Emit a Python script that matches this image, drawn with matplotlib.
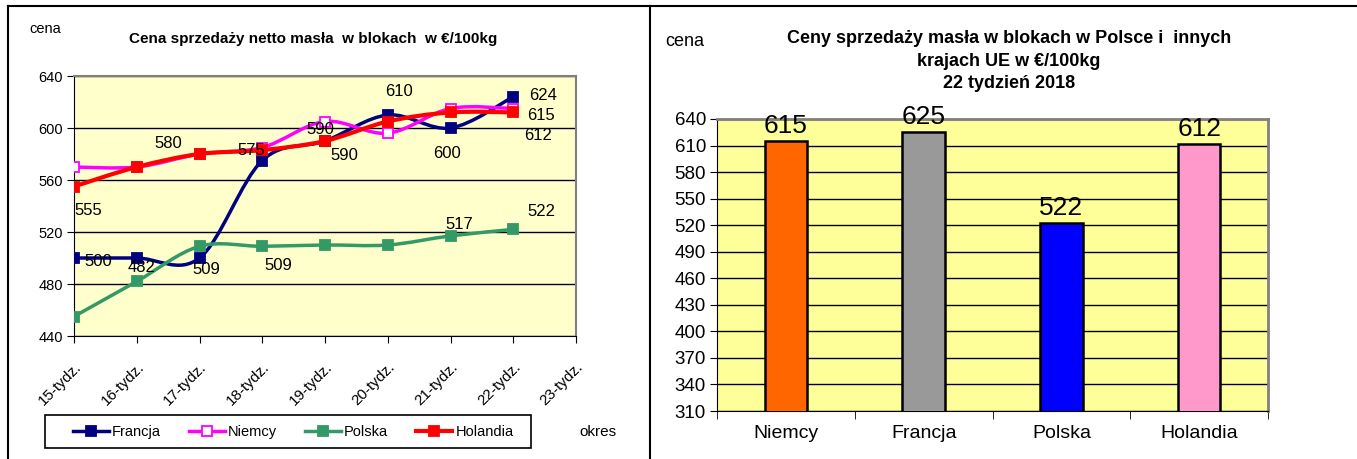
import matplotlib
matplotlib.use("Agg")
import matplotlib.pyplot as plt
from matplotlib.path import Path
from matplotlib.patches import PathPatch, Rectangle
from matplotlib.lines import Line2D
from matplotlib.transforms import ScaledTranslation
import numpy as np

plt.rcParams['font.family'] = ['Liberation Sans', 'DejaVu Sans']

# left chart: weekly prices
weeks = ["15-tydz.", "16-tydz.", "17-tydz.", "18-tydz.", "19-tydz.",
         "20-tydz.", "21-tydz.", "22-tydz.", "23-tydz."]
francja = [500, 500, 500, 575, 590, 610, 600, 624]
niemcy = [570, 570, 580, 585, 605, 596, 615, 615]
polska = [455, 482, 509, 509, 510, 510, 517, 522]
holandia = [555, 570, 580, 583, 590, 605, 612, 612]

# right chart: week 22
countries = ["Niemcy", "Francja", "Polska", "Holandia"]
week22 = [615, 625, 522, 612]
bar_colors = ["#FF6600", "#999999", "#0000FF", "#FF99CC"]


def smooth_path(ys):
    # bezier through the points, like Excel's "smoothed line"
    pts = [(float(i), float(v)) for i, v in enumerate(ys)]
    verts = [pts[0]]
    codes = [Path.MOVETO]
    n = len(pts)
    for i in range(n - 1):
        p0 = pts[max(i - 1, 0)]
        p1 = pts[i]
        p2 = pts[i + 1]
        p3 = pts[min(i + 2, n - 1)]
        c1 = (p1[0] + (p2[0] - p0[0]) / 6, p1[1] + (p2[1] - p0[1]) / 6)
        c2 = (p2[0] - (p3[0] - p1[0]) / 6, p2[1] - (p3[1] - p1[1]) / 6)
        verts += [c1, c2, p2]
        codes += [Path.CURVE4] * 3
    return Path(verts, codes)


fig = plt.figure(figsize=(13.57, 4.59), dpi=100)

# ---------------- left chart ----------------
ax = fig.add_axes([74 / 1357, 1 - 336 / 459, 502 / 1357, 260 / 459])
ax.set_facecolor("#FFFFCC")

series = [
    ("Francja", francja, "#000080", "#000080", 2.5),
    ("Niemcy", niemcy, "#FF00FF", "white", 2.5),
    ("Polska", polska, "#339966", "#339966", 2.5),
    ("Holandia", holandia, "#FF0000", "#FF0000", 3.0),
]
handles = []
for name, vals, col, mfc, lw in series:
    ax.add_patch(PathPatch(smooth_path(vals), facecolor="none", edgecolor=col,
                           lw=lw, zorder=3, capstyle="round", joinstyle="round"))
    ax.plot(range(len(vals)), vals, ls="none", marker="s", ms=6.5,
            mfc=mfc, mec=col, mew=1.3, zorder=4)
    handles.append(Line2D([], [], color=col, lw=lw, marker="s", ms=6.5,
                          mfc=mfc, mec=col, mew=1.3))

ax.set_xlim(0, len(weeks) - 1)
ax.set_ylim(440, 640)
ax.set_yticks(range(440, 641, 40))
ax.set_xticks(range(len(weeks)))
ax.set_xticklabels(weeks, rotation=45, ha="right", va="top",
                   rotation_mode="anchor", fontsize=11)
shift = ScaledTranslation(-10 / 100, 0, fig.dpi_scale_trans)
for lbl in ax.get_xticklabels():
    lbl.set_transform(lbl.get_transform() + shift)
ax.tick_params(axis="y", labelsize=10.5, length=5, direction="out", pad=3)
ax.tick_params(axis="x", length=5, direction="out", pad=12)
ax.grid(axis="y", color="black", lw=1)
ax.set_axisbelow(True)
for s in ["top", "right"]:
    ax.spines[s].set_color("#808080")
    ax.spines[s].set_linewidth(1.5)
for s in ["left", "bottom"]:
    ax.spines[s].set_color("black")

# data labels (series, index, offset in pixels)
labels = [
    (holandia, 0, 14, -24), (holandia, 2, -31, 10), (francja, 3, -11, 10),
    (holandia, 4, -5, 11), (francja, 4, 19, -15), (francja, 5, 11, 23),
    (francja, 6, -3, -26), (francja, 7, 30, 1), (niemcy, 7, 28, -7),
    (holandia, 7, 25, -23), (francja, 0, 24, -4), (polska, 1, 5, 14),
    (polska, 2, 7, -23), (polska, 3, 16, -19), (polska, 6, 9, 11),
    (polska, 7, 28, 18),
]
for vals, i, dx, dy in labels:
    ax.annotate(str(vals[i]), (i, vals[i]), xytext=(dx, dy),
                textcoords="offset pixels", ha="center", va="center",
                fontsize=12, zorder=5)

fig.text(45 / 1357, 1 - 29 / 459, "cena", fontsize=10.5, ha="center", va="center")
fig.text(313 / 1357, 1 - 39 / 459, "Cena sprzedaży netto masła  w blokach  w €/100kg",
         fontsize=11, fontweight="bold", ha="center", va="center")
fig.text(598 / 1357, 1 - 432 / 459, "okres", fontsize=11, ha="center", va="center")

# legend box drawn separately so its size matches the original
fig.add_artist(Rectangle((45 / 1357, 1 - 448 / 459), 486 / 1357, 33 / 459,
                         transform=fig.transFigure, facecolor="white",
                         edgecolor="black", lw=1.2))
leg = fig.legend(handles, [s[0] for s in series], loc="center", ncol=4,
                 bbox_to_anchor=(293 / 1357, 1 - 432 / 459),
                 fontsize=10.5, handlelength=2.5, handletextpad=0.2,
                 columnspacing=1.9, frameon=False)

# ---------------- right chart ----------------
bx = fig.add_axes([717 / 1357, 1 - 411 / 459, 551 / 1357, 292 / 459])
bx.set_facecolor("#FFFF99")
x = np.arange(len(countries))
bars = bx.bar(x, week22, width=0.31, bottom=0, color=bar_colors,
              edgecolor="black", lw=1.8, zorder=3)
bx.set_xlim(-0.5, len(countries) - 0.5)
bx.set_ylim(310, 640)
bx.set_yticks(range(310, 641, 30))
bx.set_xticks(x)
bx.set_xticklabels(countries, fontsize=14)
bx.set_xticks(np.arange(-0.5, len(countries), 1), minor=True)
bx.tick_params(axis="x", which="major", length=0, pad=10)
bx.tick_params(axis="x", which="minor", length=6, direction="out")
bx.tick_params(axis="y", labelsize=13.5, length=5, direction="out", pad=3)
bx.grid(axis="y", color="black", lw=1)
bx.set_axisbelow(True)
for s in ["top", "right"]:
    bx.spines[s].set_color("#808080")
    bx.spines[s].set_linewidth(2)
for b, v in zip(bars, week22):
    bx.annotate(str(v), (b.get_x() + b.get_width() / 2, v), xytext=(0, 15),
                textcoords="offset pixels", ha="center", va="center",
                fontsize=19, zorder=5)

fig.text(685 / 1357, 1 - 42 / 459, "cena", fontsize=13, ha="center", va="center")
fig.text(1009 / 1357, 1 - 61 / 459,
         "Ceny sprzedaży masła w blokach w Polsce i  innych\nkrajach UE w €/100kg\n22 tydzień 2018",
         fontsize=13, fontweight="bold", ha="center", va="center", linespacing=1.4)

# table borders of the page
for xs, ys in [((8 / 1357, 1), (1 - 6 / 459, 1 - 6 / 459)),
               ((8 / 1357, 8 / 1357), (0, 1 - 6 / 459)),
               ((650 / 1357, 650 / 1357), (0, 1 - 6 / 459))]:
    fig.add_artist(Line2D(xs, ys, color="black", lw=1.5, transform=fig.transFigure))

fig.savefig("out.png", dpi=100)
